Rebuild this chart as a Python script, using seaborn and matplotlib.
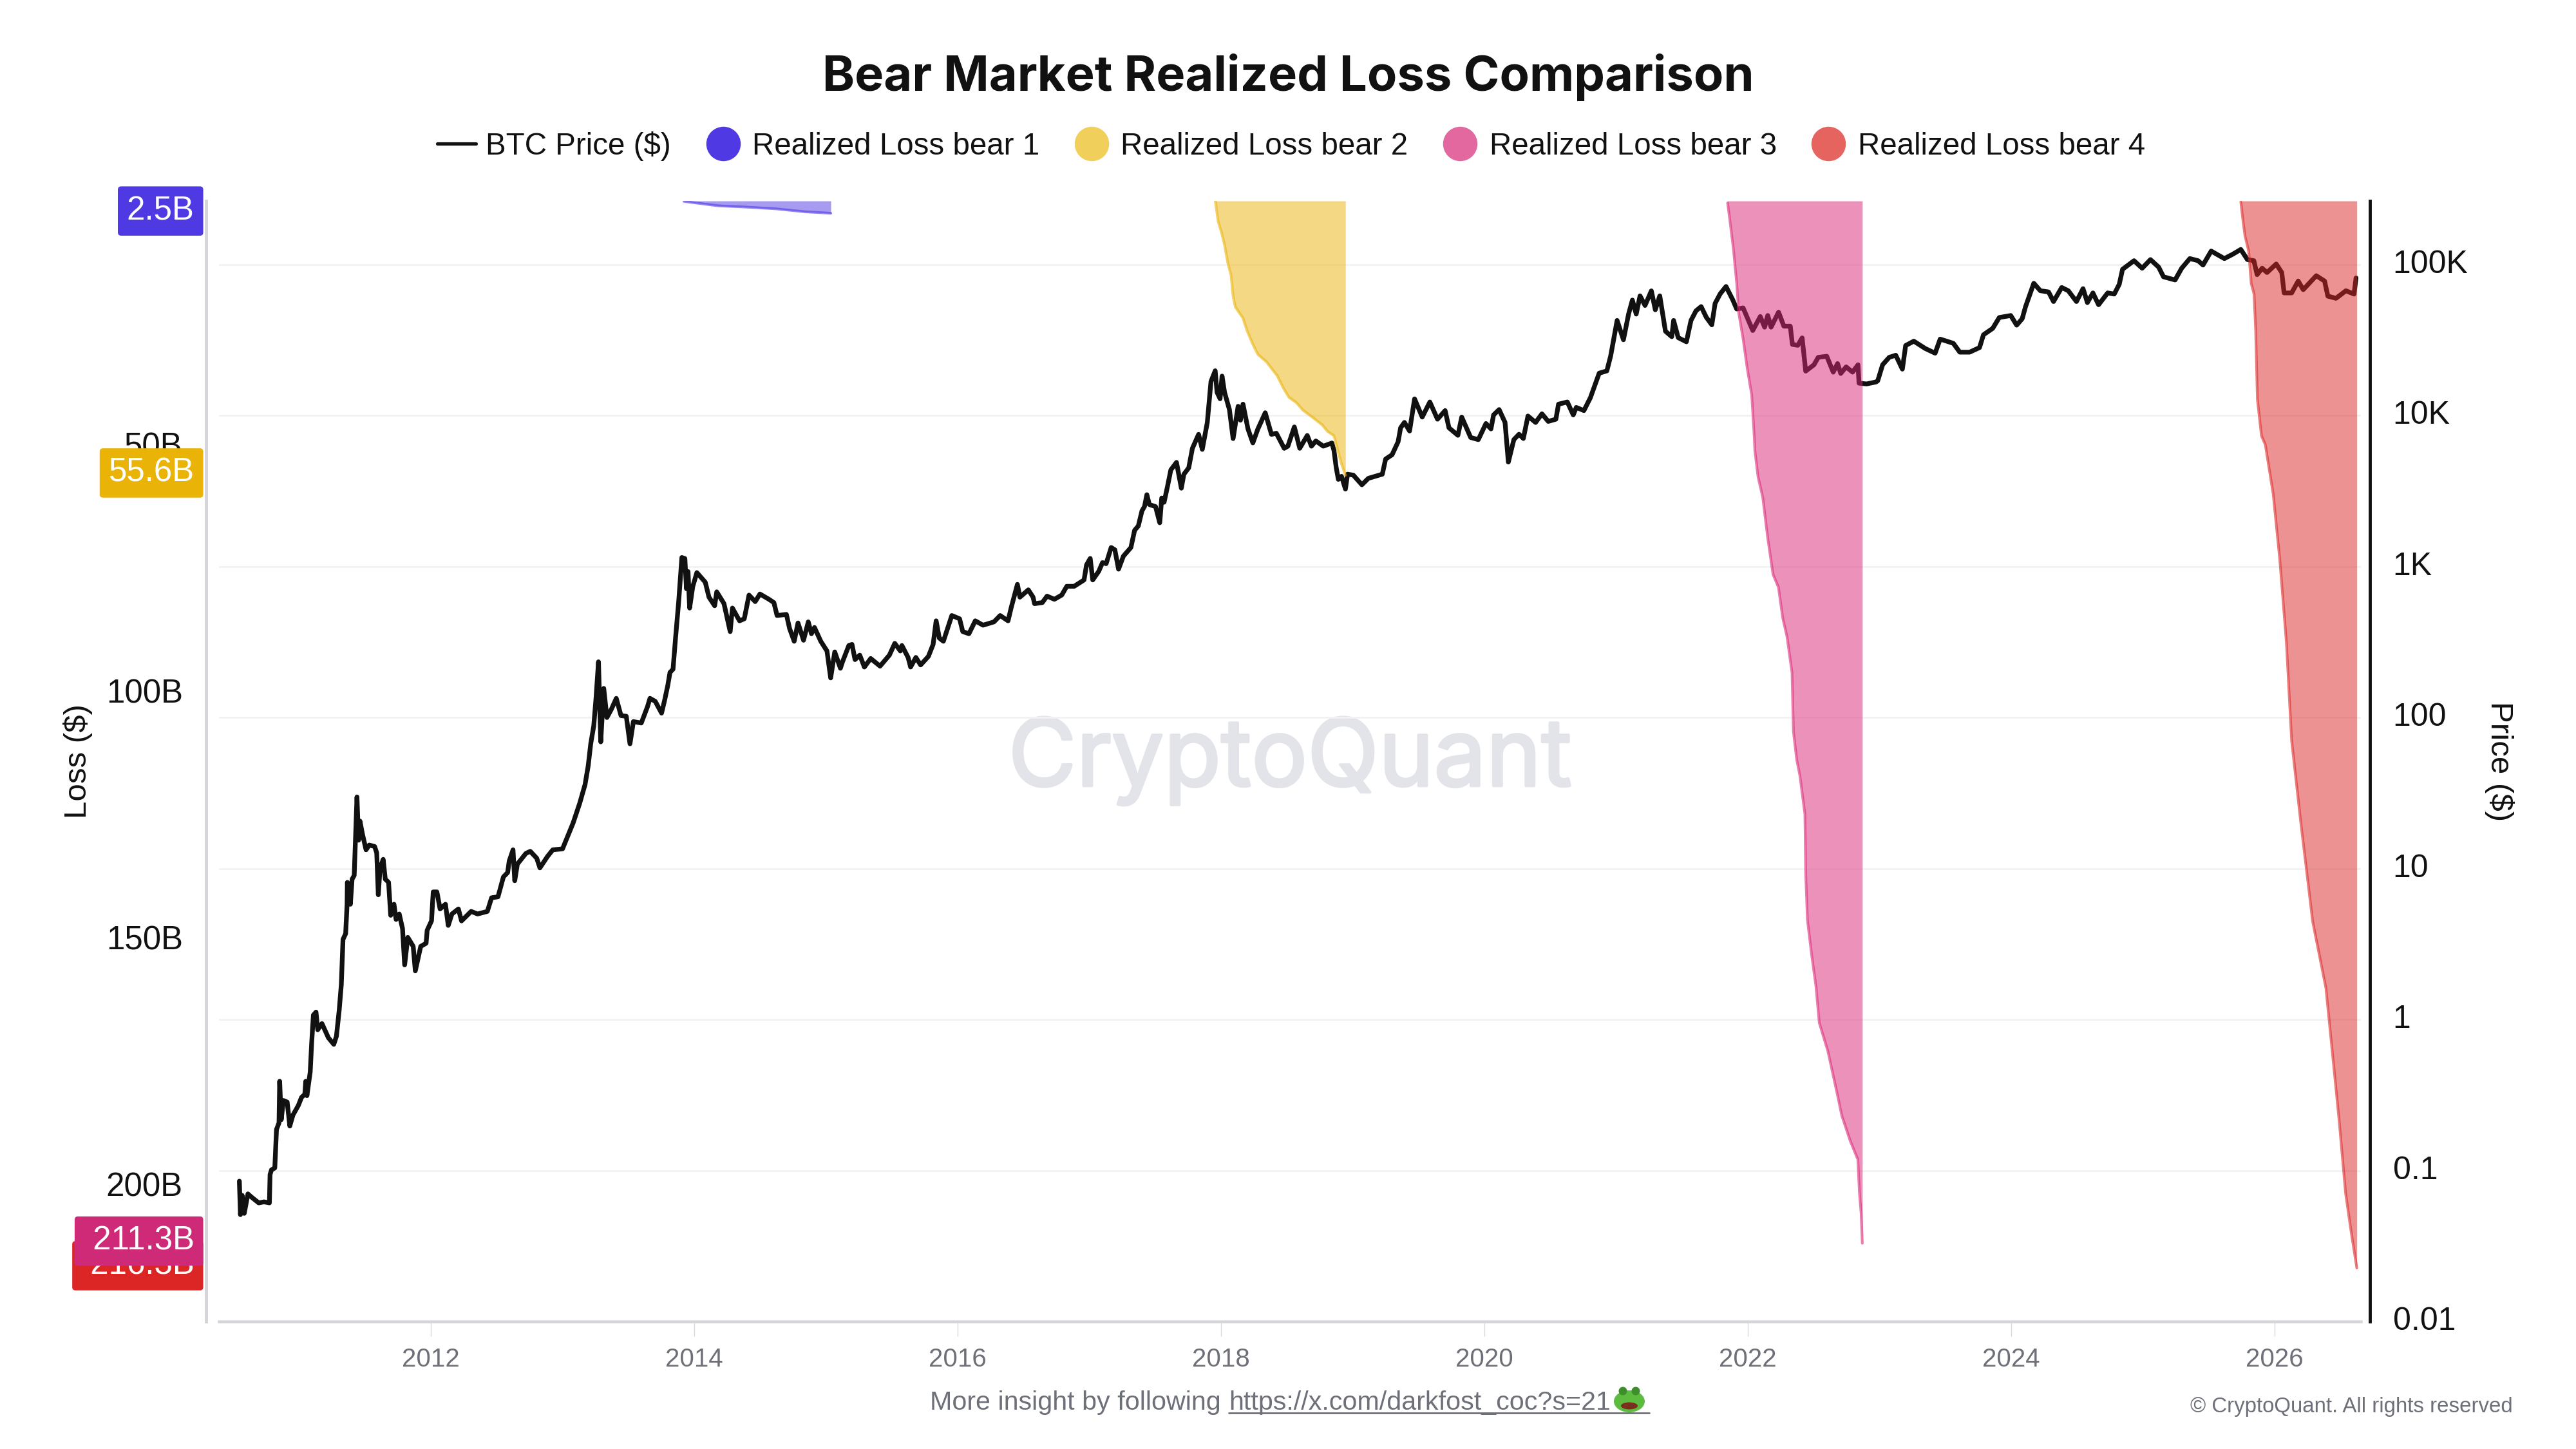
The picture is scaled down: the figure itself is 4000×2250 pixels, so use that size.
# Bear market realized loss comparison, BTC price on log scale
import pandas as pd
import matplotlib
matplotlib.use("Agg")
import matplotlib.pyplot as plt
import matplotlib.patheffects as pe
import seaborn as sns
from matplotlib.lines import Line2D
from matplotlib.patches import Ellipse
from matplotlib.ticker import FixedLocator, FixedFormatter, NullLocator

price_years = [
    2010.546, 2010.554, 2010.567, 2010.583, 2010.611, 2010.635, 2010.693, 2010.733, 2010.774, 2010.779,
    2010.790, 2010.815, 2010.828, 2010.847, 2010.852, 2010.864, 2010.880, 2010.909, 2010.929, 2010.953,
    2010.994, 2011.018, 2011.043, 2011.050, 2011.059, 2011.084, 2011.095, 2011.108, 2011.128, 2011.141,
    2011.173, 2011.222, 2011.263, 2011.283, 2011.304, 2011.320, 2011.333, 2011.353, 2011.364, 2011.366,
    2011.389, 2011.402, 2011.418, 2011.439, 2011.451, 2011.462, 2011.480, 2011.508, 2011.532, 2011.573,
    2011.589, 2011.601, 2011.614, 2011.638, 2011.654, 2011.679, 2011.695, 2011.720, 2011.736, 2011.760,
    2011.785, 2011.801, 2011.825, 2011.866, 2011.882, 2011.923, 2011.964, 2011.972, 2012.005, 2012.018,
    2012.046, 2012.070, 2012.111, 2012.132, 2012.160, 2012.209, 2012.233, 2012.306, 2012.355, 2012.429,
    2012.461, 2012.510, 2012.551, 2012.583, 2012.595, 2012.624, 2012.637, 2012.657, 2012.722, 2012.755,
    2012.804, 2012.828, 2012.885, 2012.926, 2013.000, 2013.080, 2013.130, 2013.171, 2013.195, 2013.214,
    2013.237, 2013.254, 2013.273, 2013.290, 2013.308, 2013.313, 2013.337, 2013.372, 2013.408, 2013.444,
    2013.484, 2013.512, 2013.538, 2013.598, 2013.645, 2013.664, 2013.704, 2013.752, 2013.775, 2013.799,
    2013.816, 2013.839, 2013.858, 2013.882, 2013.906, 2013.929, 2013.941, 2013.953, 2013.965, 2013.989,
    2014.020, 2014.048, 2014.084, 2014.112, 2014.155, 2014.171, 2014.226, 2014.273, 2014.290, 2014.344,
    2014.380, 2014.416, 2014.463, 2014.499, 2014.570, 2014.605, 2014.629, 2014.700, 2014.724, 2014.759,
    2014.788, 2014.830, 2014.866, 2014.890, 2014.913, 2014.961, 2015.008, 2015.036, 2015.067, 2015.110,
    2015.126, 2015.174, 2015.198, 2015.221, 2015.257, 2015.292, 2015.340, 2015.411, 2015.482, 2015.523,
    2015.565, 2015.577, 2015.624, 2015.643, 2015.683, 2015.719, 2015.778, 2015.814, 2015.837, 2015.861,
    2015.892, 2015.956, 2016.015, 2016.039, 2016.086, 2016.134, 2016.193, 2016.276, 2016.323, 2016.383,
    2016.406, 2016.454, 2016.473, 2016.537, 2016.573, 2016.584, 2016.643, 2016.679, 2016.735, 2016.791,
    2016.829, 2016.885, 2016.960, 2016.979, 2017.007, 2017.026, 2017.072, 2017.100, 2017.128, 2017.166,
    2017.194, 2017.222, 2017.259, 2017.316, 2017.344, 2017.372, 2017.400, 2017.419, 2017.437, 2017.456,
    2017.503, 2017.535, 2017.550, 2017.568, 2017.596, 2017.619, 2017.662, 2017.699, 2017.718, 2017.755,
    2017.783, 2017.830, 2017.858, 2017.896, 2017.924, 2017.956, 2017.970, 2017.993, 2018.008, 2018.027,
    2018.064, 2018.092, 2018.130, 2018.148, 2018.167, 2018.205, 2018.242, 2018.280, 2018.336, 2018.383,
    2018.420, 2018.480, 2018.508, 2018.557, 2018.598, 2018.655, 2018.687, 2018.720, 2018.777, 2018.842,
    2018.858, 2018.875, 2018.891, 2018.915, 2018.945, 2018.961, 2019.005, 2019.070, 2019.119, 2019.225,
    2019.250, 2019.299, 2019.345, 2019.364, 2019.393, 2019.432, 2019.470, 2019.528, 2019.586, 2019.644,
    2019.702, 2019.731, 2019.799, 2019.828, 2019.896, 2019.954, 2020.012, 2020.050, 2020.070, 2020.112,
    2020.157, 2020.182, 2020.224, 2020.263, 2020.296, 2020.331, 2020.389, 2020.437, 2020.485, 2020.543,
    2020.563, 2020.630, 2020.675, 2020.698, 2020.756, 2020.805, 2020.843, 2020.872, 2020.930, 2020.959,
    2021.008, 2021.056, 2021.095, 2021.124, 2021.153, 2021.182, 2021.220, 2021.268, 2021.298, 2021.332,
    2021.375, 2021.423, 2021.437, 2021.472, 2021.534, 2021.569, 2021.607, 2021.646, 2021.685, 2021.727,
    2021.752, 2021.791, 2021.835, 2021.887, 2021.916, 2021.965, 2022.038, 2022.095, 2022.128, 2022.152,
    2022.177, 2022.234, 2022.274, 2022.323, 2022.339, 2022.380, 2022.413, 2022.440, 2022.503, 2022.535,
    2022.600, 2022.649, 2022.682, 2022.706, 2022.747, 2022.796, 2022.837, 2022.845, 2022.902, 2022.975,
    2022.987, 2023.024, 2023.074, 2023.124, 2023.174, 2023.199, 2023.261, 2023.348, 2023.423, 2023.461,
    2023.561, 2023.610, 2023.685, 2023.760, 2023.790, 2023.860, 2023.910, 2023.997, 2024.042, 2024.084,
    2024.109, 2024.172, 2024.222, 2024.284, 2024.322, 2024.384, 2024.434, 2024.496, 2024.546, 2024.579,
    2024.621, 2024.664, 2024.733, 2024.783, 2024.821, 2024.846, 2024.933, 2024.995, 2025.058, 2025.120,
    2025.157, 2025.245, 2025.295, 2025.357, 2025.420, 2025.457, 2025.519, 2025.619, 2025.682, 2025.744,
    2025.794, 2025.843, 2025.868, 2025.906, 2025.943, 2026.013, 2026.055, 2026.073, 2026.130, 2026.180,
    2026.218, 2026.317, 2026.380, 2026.405, 2026.467, 2026.542, 2026.604, 2026.619,
]
price_values = [
    0.085, 0.051, 0.0685, 0.052, 0.070, 0.067, 0.061, 0.062, 0.061, 0.094,
    0.101, 0.104, 0.187, 0.207, 0.39, 0.217, 0.291, 0.284, 0.197, 0.233,
    0.270, 0.305, 0.32, 0.39, 0.313, 0.45, 0.70, 1.07, 1.12, 0.855,
    0.94, 0.757, 0.685, 0.775, 1.15, 1.70, 3.4, 3.7, 5.8, 8.1,
    5.8, 8.5, 9.0, 29.8, 15.4, 20.6, 17, 13.3, 14.3, 14,
    12.7, 6.7, 10, 11.5, 8.5, 8.1, 4.9, 5.8, 4.6, 5.0,
    4.0, 2.3, 3.5, 3.05, 2.1, 3.05, 3.2, 3.9, 4.5, 7.0,
    7.0, 5.4, 5.8, 4.2, 5.0, 5.4, 4.5, 5.2, 5.0, 5.2,
    6.4, 6.5, 8.8, 9.4, 11.2, 13.3, 8.3, 10.7, 12.6, 13,
    11.7, 10.1, 12, 13.3, 13.5, 20, 27, 36, 48, 67,
    88, 134, 234, 69, 130, 156, 100, 114, 134, 103,
    102, 67, 94, 92, 118, 134, 128, 107, 130, 163,
    199, 209, 336, 586, 1148, 1130, 713, 927, 531, 738,
    912, 855, 787, 627, 550, 680, 568, 371, 531, 437,
    451, 647, 586, 658, 605, 577, 474, 482, 389, 320,
    423, 325, 430, 359, 395, 320, 276, 183, 272, 212,
    234, 300, 305, 242, 259, 216, 246, 219, 259, 310,
    276, 300, 250, 216, 250, 223, 254, 305, 437, 336,
    320, 474, 451, 371, 359, 437, 409, 430, 474, 437,
    531, 762, 627, 701, 627, 568, 577, 637, 607, 648,
    740, 740, 815, 1026, 1132, 815, 931, 1062, 1045, 1337,
    1292, 961, 1172, 1337, 1738, 1857, 2339, 2496, 2992, 2575,
    2496, 1950, 2844, 2667, 3467, 4365, 4898, 3304, 4085, 4508,
    6072, 7510, 5970, 9000, 16830, 19800, 14260, 12920, 18260, 14260,
    10960, 7040, 11520, 9320, 11900, 8150, 6590, 8150, 10440, 7510,
    7640, 6070, 6270, 8410, 6070, 7380, 6270, 6790, 6270, 6580,
    5870, 4520, 3780, 3960, 3260, 4090, 4030, 3480, 3840, 4090,
    5150, 5500, 6710, 8300, 9010, 7900, 12900, 9770, 12300, 9460,
    10790, 8300, 7400, 9770, 7160, 6930, 8860, 8160, 10100, 10960,
    9000, 4920, 6930, 7520, 7050, 9930, 9000, 10270, 9150, 9460,
    11900, 12300, 10100, 11320, 10790, 13130, 16220, 19100, 19760, 24830,
    42660, 31770, 47000, 58200, 47000, 62100, 53600, 67000, 50200, 62100,
    36200, 33300, 42660, 32800, 30800, 42660, 49400, 52700, 44800, 39900,
    55300, 64100, 71600, 58200, 50800, 51600, 36600, 45300, 38500, 46000,
    38500, 48400, 39100, 39100, 29600, 29200, 32700, 19700, 21700, 24300,
    24700, 19400, 22100, 19000, 21000, 19400, 21700, 16400, 16200, 16700,
    17000, 21700, 24300, 25100, 20300, 29100, 31100, 27800, 25900, 32100,
    30100, 26300, 26300, 28200, 34300, 37800, 44600, 46000, 39700, 43800,
    52500, 75200, 67100, 65900, 56900, 70500, 67100, 56900, 69300, 56000,
    64900, 54200, 64900, 63800, 74000, 93100, 106100, 94600, 107900, 96200,
    83000, 79100, 94600, 109600, 106100, 99300, 122900, 109600, 117000, 126000,
    107900, 106100, 85800, 94600, 88600, 100900, 88600, 64900, 64900, 77800,
    68200, 84400, 77800, 61800, 59800, 67100, 63800, 81600,
]

bear1_years = [2013.922, 2014.186, 2014.362, 2014.621, 2014.841, 2015.037]
bear1_loss = [0.1, 1.0, 1.2, 1.6, 2.2, 2.5]

bear2_years = [
    2017.957, 2017.978, 2018.003, 2018.027, 2018.052, 2018.076, 2018.092, 2018.109, 2018.166, 2018.198,
    2018.239, 2018.280, 2018.345, 2018.426, 2018.475, 2018.516, 2018.573, 2018.622, 2018.687, 2018.769,
    2018.809, 2018.858, 2018.883, 2018.915, 2018.945,
]
bear2_loss = [
    0.0, 4.1, 6.3, 8.9, 12.6, 15.0, 19.3, 21.5, 23.7, 26.3,
    28.9, 31.1, 32.6, 35.4, 38.0, 39.8, 40.9, 42.4, 43.7, 45.4,
    46.7, 47.6, 50.2, 53.3, 55.6,
]

bear3_years = [
    2021.847, 2021.867, 2021.891, 2021.916, 2021.932, 2021.965, 2021.997, 2022.030, 2022.049, 2022.054,
    2022.078, 2022.114, 2022.152, 2022.192, 2022.233, 2022.266, 2022.298, 2022.336, 2022.347, 2022.372,
    2022.396, 2022.434, 2022.440, 2022.453, 2022.486, 2022.518, 2022.543, 2022.608, 2022.681, 2022.714,
    2022.779, 2022.836, 2022.848, 2022.861, 2022.870,
]
bear3_loss = [
    0.4, 4.5, 9.7, 16.7, 22.8, 28.0, 34.1, 39.3, 47.6, 50.6,
    55.9, 60.1, 68.4, 75.7, 78.3, 84.6, 88.3, 95.6, 107.6, 113.3,
    116.5, 124.3, 136.3, 145.7, 153.0, 159.2, 166.6, 172.3, 181.2, 185.4,
    190.6, 194.3, 201.1, 205.2, 211.3,
]

bear4_years = [
    2025.744, 2025.763, 2025.776, 2025.804, 2025.823, 2025.845, 2025.857, 2025.870, 2025.901, 2025.930,
    2025.990, 2026.040, 2026.090, 2026.130, 2026.200, 2026.290, 2026.390, 2026.440, 2026.490, 2026.540,
    2026.585, 2026.625,
]
bear4_loss = [
    0.2, 4.5, 7.1, 10.2, 16.7, 18.9, 26.3, 40.2, 47.6, 49.4,
    59.4, 72.7, 89.4, 109.4, 126.1, 146.1, 159.5, 172.8, 186.2, 201.2,
    209.5, 216.3,
]

bear_names = ["Realized Loss bear 1", "Realized Loss bear 2", "Realized Loss bear 3", "Realized Loss bear 4"]
bear_colors = ["#4F39E3", "#EAB308", "#DB2777", "#DC2626"]
legend_dots = ["#4F39E3", "#F0CF5A", "#E368A0", "#E5645F"]

# end labels, red goes first so the pink one covers it
end_labels = ["2.5B", "55.6B", "\u00a0216.3B", "\u00a0211.3B"]
end_values = [2.5, 55.6, 216.3, 211.3]
end_colors = ["#4F39E3", "#EAB308", "#DC2626", "#CF2A78"]

year_ticks = [2012, 2014, 2016, 2018, 2020, 2022, 2024, 2026]
loss_ticks = [50, 100, 150, 200]
loss_tick_labels = ["50B", "100B", "150B", "200B"]
price_ticks = [0.01, 0.1, 1, 10, 100, 1000, 10000, 100000]
price_tick_labels = ["0.01", "0.1", "1", "10", "100", "1K", "10K", "100K"]

sns.set_theme(style="white")
plt.rcParams["font.family"] = ["Liberation Sans", "DejaVu Sans"]
plt.rcParams["ytick.alignment"] = "center"

fig = plt.figure(figsize=(16, 9), dpi=250)
ax_price = fig.add_axes([340 / 4000, 198 / 2250, 3326 / 4000, 1740 / 2250])
ax_loss = ax_price.twinx()

grey = "#6E7079"
ink = "#111111"

ax_price.text(0.5, 0.5, "CryptoQuant", transform=ax_price.transAxes, ha="center", va="center",
              fontsize=41.7, color="#E3E4EA", family="Inter", zorder=0,
              path_effects=[pe.withStroke(linewidth=1.2, foreground="#E3E4EA")])

df_price = pd.DataFrame({"year": price_years, "price": price_values})
sns.lineplot(data=df_price, x="year", y="price", ax=ax_price, color=ink, linewidth=2.1,
             estimator=None, errorbar=None, sort=False, legend=False, zorder=3)
ax_price.set_yscale("log")
ax_price.set_xlim(2010.391, 2026.656)
ax_price.set_ylim(0.01, 264000)

for years, loss, color in zip([bear1_years, bear2_years, bear3_years, bear4_years],
                              [bear1_loss, bear2_loss, bear3_loss, bear4_loss], bear_colors):
    df_bear = pd.DataFrame({"year": years, "loss": loss})
    ax_loss.fill_between(df_bear["year"], 0, df_bear["loss"], color=color, alpha=0.5, linewidth=0)
    sns.lineplot(data=df_bear, x="year", y="loss", ax=ax_loss, color=color, alpha=0.6, linewidth=1.2,
                 estimator=None, errorbar=None, sort=False, legend=False)
ax_loss.set_ylim(227.15, 0)

# axes
ax_price.yaxis.set_major_locator(FixedLocator(price_ticks))
ax_price.yaxis.set_major_formatter(FixedFormatter(price_tick_labels))
ax_price.yaxis.set_minor_locator(NullLocator())
ax_price.yaxis.tick_right()
ax_price.yaxis.set_label_position("right")
ax_price.grid(True, axis="y", color="#F2F2F4", linewidth=0.8)
ax_price.grid(False, axis="x")
ax_price.set_axisbelow(True)
ax_price.set_xticks(year_ticks)
ax_price.set_xticklabels([str(y) for y in year_ticks])
ax_price.tick_params(axis="x", length=6.6, width=0.4, color="#D8D9DC", labelsize=11.6, labelcolor=grey, pad=4.8,
                     bottom=True)
ax_price.tick_params(axis="y", length=0, labelsize=14.4, labelcolor=ink, pad=10.3)
ax_price.set_xlabel("")
ax_price.set_ylabel("Price ($)", fontsize=14.2, color=ink, rotation=270, labelpad=20.5)

ax_loss.set_yticks(loss_ticks)
ax_loss.set_yticklabels(loss_tick_labels)
ax_loss.yaxis.tick_left()
ax_loss.yaxis.set_label_position("left")
ax_loss.tick_params(axis="y", length=0, labelsize=14.7, labelcolor=ink, pad=10.4)
ax_loss.set_ylabel("Loss ($)", fontsize=14.2, color=ink, labelpad=6)

for ax in [ax_price, ax_loss]:
    for side in ["top", "left", "right", "bottom"]:
        ax.spines[side].set_visible(False)
ax_price.spines["bottom"].set_visible(True)
ax_price.spines["bottom"].set_color("#D4D5D9")
ax_price.spines["bottom"].set_linewidth(1.3)
ax_price.spines["right"].set_visible(True)
ax_price.spines["right"].set_position(("outward", 4))
ax_price.spines["right"].set_color(ink)
ax_price.spines["right"].set_linewidth(1.4)
ax_loss.spines["left"].set_visible(True)
ax_loss.spines["left"].set_position(("outward", 5.76))
ax_loss.spines["left"].set_color("#D4D5D9")
ax_loss.spines["left"].set_linewidth(1.4)

for label, value, color in zip(end_labels, end_values, end_colors):
    ax_loss.annotate(label, xy=(0, value), xycoords=ax_loss.get_yaxis_transform(),
                     xytext=(-11, 1), textcoords="offset points", ha="right", va="center",
                     fontsize=14.7, color="white", annotation_clip=False, zorder=6,
                     bbox=dict(boxstyle="round,pad=0.27,rounding_size=0.1", fc=color, ec="none"))

# title and legend
fig.text(0.5, 1 - 120 / 2250, "Bear Market Realized Loss Comparison", ha="center", va="center",
         fontsize=21.85, fontweight="bold", color=ink, family="Inter")

handles = [Line2D([], [], color=ink, linewidth=1.5, label="BTC Price ($)")]
for name, dot in zip(bear_names, legend_dots):
    handles.append(Line2D([], [], linestyle="none", marker="o", markersize=14.4, color=dot, label=name))
fig.legend(handles=handles, loc="center", bbox_to_anchor=(0.50125, 1 - 227 / 2250), ncol=5, frameon=False,
           fontsize=13.7, handlelength=1.25, handletextpad=0.33, columnspacing=1.07, labelcolor=ink)

# footer
fig.text(1444 / 4000, 1 - 2178 / 2250, "More insight by following", fontsize=11.9, color=grey, va="center")
fig.text(1908 / 4000, 1 - 2178 / 2250, "https://x.com/darkfost_coc?s=21", fontsize=11.9, color=grey, va="center")
fig.add_artist(Line2D([1908 / 4000, 2561 / 4000], [1 - 2194 / 2250] * 2, color=grey, linewidth=0.8))
fig.text(3902 / 4000, 1 - 2185 / 2250, "\u00a9 CryptoQuant. All rights reserved", fontsize=9.5, color=grey,
         ha="right", va="center")

# frog emoji after the link, no installed font has it so it is drawn as a shape
frog_parts = [
    ((2530, 2176), 48, 34, "#5DBB3F"),
    ((2520, 2160), 13, 13, "#3E8E2C"),
    ((2540, 2160), 13, 13, "#3E8E2C"),
    ((2530, 2183), 26, 11, "#7A2E1E"),
]
for (px, py), w, h, color in frog_parts:
    fig.add_artist(Ellipse((px / 4000, 1 - py / 2250), w / 4000, h / 2250, transform=fig.transFigure,
                           facecolor=color, edgecolor="none"))

fig.savefig("out.png", dpi=250)
